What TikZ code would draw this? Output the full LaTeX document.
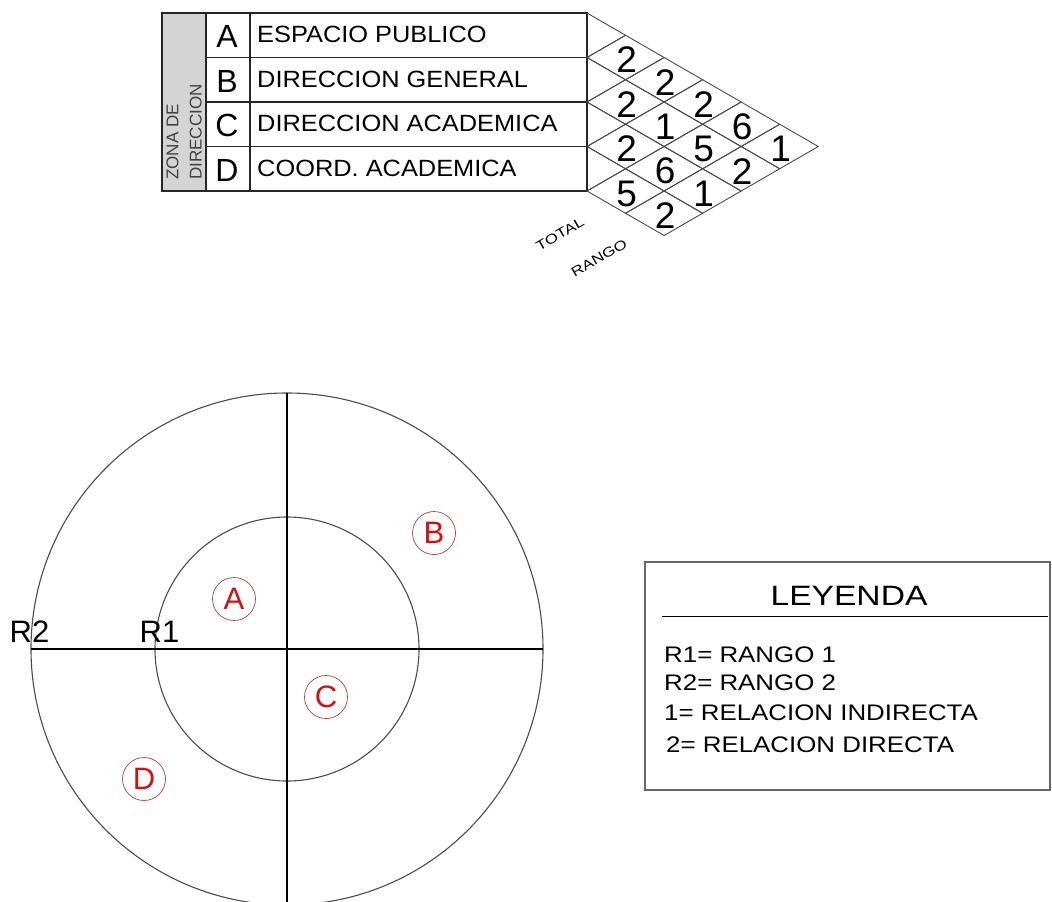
\documentclass[tikz,border=0pt]{standalone}
\usepackage{fontspec}
\setmainfont{Liberation Sans}
\newcommand{\fs}[1]{\fontsize{#1}{#1}\selectfont}
\newcommand{\wx}[2]{\scalebox{#1}[1]{#2}}
\definecolor{zonered}{RGB}{205,20,20}
\definecolor{ringred}{RGB}{180,60,60}
\begin{document}
\begin{tikzpicture}[x=1pt,y=-1pt,
  tab/.style={draw=black!85,line width=1.1pt},
  lat/.style={draw=black!70,line width=0.9pt},
  rowletter/.style={anchor=base,inner sep=0,font=\fs{32}},
  rowname/.style={anchor=base west,inner sep=0,font=\fs{23.5}},
  num/.style={inner sep=0,font=\fs{37}},
  small/.style={inner sep=0,font=\fs{13.5},rotate=30},
  ring/.style={draw=black!70,line width=1.1pt},
  axisline/.style={draw=black,line width=1.1pt},
  zone/.style={circle,draw=ringred,line width=0.7pt,minimum size=43pt,inner sep=0,text=zonered,font=\fs{31}},
  rlabel/.style={anchor=base west,inner sep=0,font=\fs{31}},
  legitem/.style={anchor=base west,inner sep=0,font=\fs{22.5}}]
\clip (0,0) rectangle (1052,902);
\fill[white] (0,0) rectangle (1052,902);

% ---------- table ----------
\fill[black!17] (162,13) rectangle (206,191);
\draw[tab] (162,13) rectangle (587,191);
\draw[tab] (206,13) -- (206,191);
\draw[tab] (250,13) -- (250,191);
\foreach \y in {57.5,102,146.5} \draw[tab] (206,\y) -- (587,\y);

\node[anchor=base west,inner sep=0,rotate=90,font=\fs{17},text=black!75] (zona1) at (178.3,180) {ZONA DE};
\node[anchor=base west,inner sep=0,rotate=90,font=\fs{17},text=black!75] (zona2) at (201.5,180) {DIRECCION};

\node[rowletter] (la) at (227,47.8) {A};
\node[rowletter] (lb) at (227,92.2) {B};
\node[rowletter] (lc) at (227,136.8) {C};
\node[rowletter] (ld) at (227,181.2) {D};
\node[rowname] (na) at (257,42.5) {\wx{1.08}{ESPACIO PUBLICO}};
\node[rowname] (nb) at (257,87.2) {\wx{1.08}{DIRECCION GENERAL}};
\node[rowname] (nc) at (257,131.8) {\wx{1.08}{DIRECCION ACADEMICA}};
\node[rowname] (nd) at (257,176.5) {\wx{1.08}{COORD. ACADEMICA}};

% ---------- interaction matrix ----------
\foreach \k in {0,1,2,3}{
  \pgfmathsetmacro\cy{35.25+44.5*\k}
  \draw[lat] (587,\cy-22.25) -- (625.54,\cy) -- (587,\cy+22.25);
}
\foreach \i/\j/\v in {0/1/2,0/2/2,1/2/2,0/3/2,1/3/1,2/3/2,0/4/6,1/4/5,2/4/6,3/4/5,0/5/1,1/5/2,2/5/1,3/5/2}{
  \pgfmathsetmacro\cx{587+(\j-\i)*38.54}
  \pgfmathsetmacro\cy{35.25+22.25*(\i+\j)}
  \draw[lat] (\cx-38.54,\cy) -- (\cx,\cy-22.25) -- (\cx+38.54,\cy) -- (\cx,\cy+22.25) -- cycle;
  \node[num] (m\i\j) at (\cx+1,\cy+2.5) {\v};
}
\node[small] (total) at (560,234) {\wx{1.25}{TOTAL}};
\node[small] (rango) at (599,258) {\wx{1.25}{RANGO}};

% ---------- circles ----------
\coordinate (O) at (287,649);
\draw[ring] (O) circle[radius=256];
\draw[ring] (O) circle[radius=132];
\coordinate (vt) at (287,393);
\coordinate (vb) at (287,906);
\coordinate (hl) at (31,649);
\coordinate (hr) at (543,649);
\draw[axisline] (vt) -- (vb);
\draw[axisline] (hl) -- (hr);
\node[rlabel] (r2) at (9.5,642) {R2};
\node[rlabel] (r1) at (139.5,642) {R1};
\node[zone] (za) at (234,599) {A};
\node[zone] (zb) at (434,533) {B};
\node[zone] (zc) at (326,697) {C};
\node[zone] (zd) at (144,779) {D};

% ---------- legend ----------
\draw[draw=black!60,line width=1.4pt] (645,562) rectangle (1050,790);
\coordinate (sepl) at (662,616);
\coordinate (sepr) at (1048,616);
\draw[black,line width=1pt] (sepl) -- (sepr);
\node[anchor=base,inner sep=0,font=\fs{28}] (ley) at (849,605) {\wx{1.2}{LEYENDA}};
\node[legitem] (l1) at (664,662) {\wx{1.15}{R1= RANGO 1}};
\node[legitem] (l2) at (664,690) {\wx{1.15}{R2= RANGO 2}};
\node[legitem] (l3) at (664,720) {\wx{1.15}{1= RELACION INDIRECTA}};
\node[legitem] (l4) at (666,752) {\wx{1.15}{2= RELACION DIRECTA}};
\end{tikzpicture}
\end{document}
